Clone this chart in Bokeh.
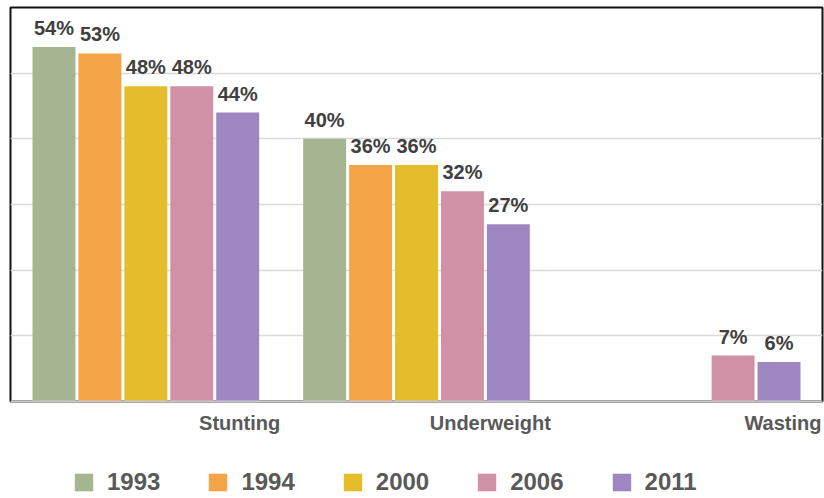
from bokeh.plotting import figure
from bokeh.layouts import column
from bokeh.models import ColumnDataSource, Range1d, FixedTicker, Legend, LegendItem
from bokeh.core.properties import value
from bokeh.embed import file_html
from bokeh.resources import INLINE

categories = ["Stunting", "Underweight", "Wasting"]
years = ["1993", "1994", "2000", "2006", "2011"]
v1993 = [54, 40, None]
v1994 = [53, 36, None]
v2000 = [48, 36, None]
v2006 = [48, 32, 7]
v2011 = [44, 27, 6]
series = [v1993, v1994, v2000, v2006, v2011]
colors = ["#a5b592", "#f4a447", "#e5bc2a", "#d091a6", "#9e86c1"]

FONT = value("Liberation Sans")
BAR_STEP = 0.1697
BAR_W = 0.1587
W = 824
H1 = 403
H2 = 95

xr = Range1d(0, 3)
p = figure(width=W, height=H1, x_range=xr, y_range=Range1d(0, 60),
           output_backend="svg", toolbar_location=None,
           min_border_left=10, min_border_right=2, min_border_top=7, min_border_bottom=2)

p.background_fill_color = "white"
p.border_fill_color = "white"
p.outline_line_color = "#111111"
p.outline_line_width = 2

p.yaxis.visible = False
p.xgrid.visible = False
p.ygrid.ticker = FixedTicker(ticks=[10, 20, 30, 40, 50])
p.ygrid.grid_line_color = "#d9d9d9"
p.ygrid.grid_line_width = 1.5

p.xaxis.ticker = FixedTicker(ticks=[])
p.xaxis.major_tick_line_color = None
p.xaxis.minor_tick_line_color = None
p.xaxis.major_tick_out = 0
p.xaxis.major_tick_in = 0
p.xaxis.major_label_standoff = 0
p.xaxis.major_label_text_font_size = "0px"
p.xaxis.axis_line_color = "#c8c8c8"
p.xaxis.axis_line_width = 2

bar_x = []
for j, (yr, vals, col) in enumerate(zip(years, series, colors)):
    xs = [i + 0.5 + (j - 2) * BAR_STEP for i, v in enumerate(vals) if v is not None]
    bar_x.append(xs)
    tops = [v for v in vals if v is not None]
    src = ColumnDataSource(dict(x=xs, top=tops, label=[f"{v}%" for v in tops]))
    p.vbar(x="x", top="top", width=BAR_W, source=src, fill_color=col, line_color=None)
    p.text(x="x", y="top", text="label", source=src, text_align="center",
           text_baseline="alphabetic", y_offset=-19, text_font=FONT,
           text_font_style="bold", text_font_size="20px", text_color="#404040")

# lower strip: category labels and legend
q = figure(width=W, height=H2, x_range=xr, y_range=Range1d(0, H2),
           output_backend="svg", toolbar_location=None,
           min_border_left=10, min_border_right=2, min_border_top=0, min_border_bottom=0)
q.axis.visible = False
q.grid.visible = False
q.outline_line_color = None
q.background_fill_color = "white"
q.border_fill_color = "white"

cat_src = ColumnDataSource(dict(x=[i + 1 for i in range(len(categories))],
                                y=[H2 - 19] * len(categories), text=categories))
q.text(x="x", y="y", text="text", source=cat_src, text_align="right",
       text_baseline="alphabetic", x_offset=-1, text_font=FONT,
       text_font_style="bold", text_font_size="20px", text_color="#595959")

# zero-height stand-in bars in the lower strip, only to carry the legend swatches
items = []
for yr, col, xs in zip(years, colors, bar_x):
    r = q.vbar(x=xs, top=[0] * len(xs), bottom=[0] * len(xs), width=BAR_W,
               fill_color=col, line_color=None)
    items.append(LegendItem(label=yr, renderers=[r]))

legend = Legend(items=items, orientation="horizontal", location=(62, 2),
                glyph_width=23, glyph_height=22, label_standoff=12, spacing=46,
                padding=0, margin=0, border_line_color=None, background_fill_alpha=0,
                label_text_font="Liberation Sans", label_text_font_size="24px",
                label_text_font_style="bold", label_text_color="#595959")
q.add_layout(legend)

layout = column(p, q, spacing=0)
open("out.html", "w").write(file_html(layout, INLINE))
